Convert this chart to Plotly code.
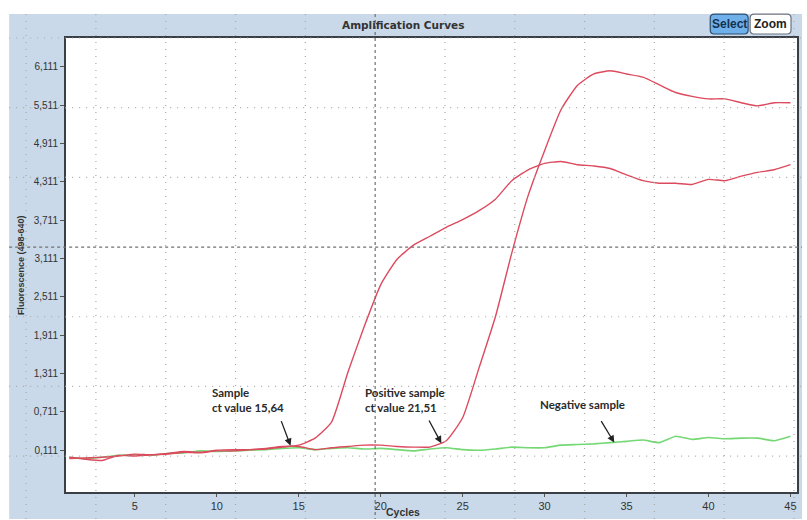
import plotly.graph_objects as go

# PCR cycle numbers
cycles = list(range(1, 46))

# Fluorescence (498-640) readings per cycle
sample = [0.00, -0.03, -0.05, 0.03, 0.02, 0.04, 0.05, 0.08, 0.07, 0.10,
          0.10, 0.12, 0.13, 0.16, 0.19, 0.30, 0.55, 1.33, 2.05, 2.70,
          3.10, 3.32, 3.46, 3.60, 3.72, 3.86, 4.04, 4.33, 4.50, 4.60,
          4.63, 4.58, 4.56, 4.52, 4.42, 4.33, 4.29, 4.29, 4.27, 4.35,
          4.33, 4.40, 4.46, 4.50, 4.58]
positive = [-0.02, -0.01, 0.00, 0.02, 0.05, 0.04, 0.06, 0.09, 0.08, 0.11,
            0.12, 0.12, 0.14, 0.17, 0.17, 0.12, 0.15, 0.17, 0.19, 0.19,
            0.17, 0.16, 0.16, 0.26, 0.62, 1.40, 2.20, 3.20, 4.10, 4.80,
            5.44, 5.82, 6.00, 6.05, 6.00, 5.95, 5.83, 5.71, 5.65, 5.61,
            5.61, 5.55, 5.50, 5.55, 5.55]
negative = [0.00, -0.02, 0.00, 0.03, 0.04, 0.03, 0.06, 0.07, 0.10, 0.09,
            0.10, 0.11, 0.12, 0.14, 0.15, 0.12, 0.14, 0.15, 0.13, 0.14,
            0.12, 0.10, 0.13, 0.15, 0.12, 0.11, 0.13, 0.16, 0.15, 0.15,
            0.19, 0.20, 0.21, 0.23, 0.25, 0.27, 0.23, 0.33, 0.28, 0.31,
            0.29, 0.30, 0.30, 0.26, 0.33]

# Axis ticks
x_ticks = [5, 10, 15, 20, 25, 30, 35, 40, 45]
y_ticks = [0.111, 0.711, 1.311, 1.911, 2.511, 3.111, 3.711, 4.311, 4.911, 5.511, 6.111]
y_tick_text = ["0,111", "0,711", "1,311", "1,911", "2,511", "3,111",
               "3,711", "4,311", "4,911", "5,511", "6,111"]

# Callouts: text, text anchor (cycle, value), arrow tail and tip (cycle, value)
callouts = [
    ("Sample<br>ct value 15,64", (9.6, 0.90), (13.9, 0.59), (14.5, 0.18)),
    ("Positive sample<br>ct value 21,51", (18.9, 0.90), (22.9, 0.60), (23.7, 0.22)),
    ("Negative sample", (29.6, 0.83), (33.4, 0.59), (34.25, 0.23)),
]

W, H = 807, 520
L, R, T, B = 66, 799, 38, 494
RED = "#dc4a5e"
GREEN = "#74d874"
PANEL = "#c9d9e9"


def fx(p):
    return (p - L) / (R - L)


def fy(p):
    return (B - p) / (B - T)


fig = go.Figure()
fig.add_trace(go.Scatter(x=cycles, y=negative, mode="lines",
                         line=dict(color=GREEN, width=1.6, shape="spline", smoothing=0.4)))
fig.add_trace(go.Scatter(x=cycles, y=sample, mode="lines",
                         line=dict(color=RED, width=1.4, shape="spline", smoothing=0.5)))
fig.add_trace(go.Scatter(x=cycles, y=positive, mode="lines",
                         line=dict(color=RED, width=1.4, shape="spline", smoothing=0.5)))

shapes = [
    # blue panel behind everything, white plotting area on top of it
    dict(type="rect", xref="paper", yref="paper", x0=fx(9), x1=fx(804), y0=fy(14), y1=fy(521),
         fillcolor=PANEL, line=dict(width=0), layer="below"),
    dict(type="rect", xref="paper", yref="paper", x0=0, x1=1, y0=0, y1=1,
         fillcolor="white", line=dict(width=0), layer="below"),
]

# screen grid overlay
DOT = dict(color="#a8a8a8", width=1.2, dash="1px,6px")
CENTRE = dict(color="#707070", width=1.2, dash="3px,3px")
for gx in range(26, 800, 70):
    shapes.append(dict(type="line", xref="paper", yref="paper",
                       x0=fx(gx), x1=fx(gx), y0=fy(14), y1=fy(521),
                       line=CENTRE if gx == 376 else DOT, layer="above"))
for gy in range(38, 520, 70):
    shapes.append(dict(type="line", xref="paper", yref="paper",
                       x0=fx(9), x1=fx(804), y0=fy(gy), y1=fy(gy),
                       line=CENTRE if gy == 248 else DOT, layer="above"))


def rounded(x0, y0, x1, y1, r=4):
    return (f"M {fx(x0 + r)},{fy(y0)} L {fx(x1 - r)},{fy(y0)} "
            f"Q {fx(x1)},{fy(y0)} {fx(x1)},{fy(y0 + r)} L {fx(x1)},{fy(y1 - r)} "
            f"Q {fx(x1)},{fy(y1)} {fx(x1 - r)},{fy(y1)} L {fx(x0 + r)},{fy(y1)} "
            f"Q {fx(x0)},{fy(y1)} {fx(x0)},{fy(y1 - r)} L {fx(x0)},{fy(y0 + r)} "
            f"Q {fx(x0)},{fy(y0)} {fx(x0 + r)},{fy(y0)} Z")


# Select / Zoom buttons
shapes.append(dict(type="path", xref="paper", yref="paper", path=rounded(712, 14, 750, 34),
                   fillcolor="#6fb0ea", line=dict(color="#2c4d70", width=1.2), layer="above"))
shapes.append(dict(type="path", xref="paper", yref="paper", path=rounded(752, 14, 793, 34),
                   fillcolor="white", line=dict(color="#6a7280", width=1.2), layer="above"))


def label(text, x, y, size, family="Liberation Sans", color="#333", angle=0):
    return dict(text=text, xref="paper", yref="paper", x=fx(x), y=fy(y),
                xanchor="center", yanchor="middle", textangle=angle, showarrow=False,
                font=dict(family=family, size=size, color=color))


NARROW = "Liberation Sans Narrow, Liberation Sans"
annotations = [
    label("<b>Amplification Curves</b>", 404, 25, 10.5, "DejaVu Sans"),
    label("<b>Select</b>", 731, 24, 12, NARROW, "#17314f"),
    label("<b>Zoom</b>", 772.5, 24, 12, NARROW, "#222"),
    label("<b>Fluorescence (498-640)</b>", 21, 266, 9, angle=-90),
    label("<b>Cycles</b>", 404, 514, 10.5, NARROW),
]

for text, (tx, ty), (ax, ay), (hx, hy) in callouts:
    annotations.append(dict(text=f"<b>{text}</b>", x=tx, y=ty, xref="x", yref="y",
                            xanchor="left", yanchor="middle", align="left", showarrow=False,
                            font=dict(family="Lato, Open Sans", size=11.5, color="#2a2a2a")))
    annotations.append(dict(text="", x=hx, y=hy, ax=ax, ay=ay, xref="x", yref="y",
                            axref="x", ayref="y", showarrow=True, arrowhead=2,
                            arrowsize=1.1, arrowwidth=1.3, arrowcolor="#222"))

fig.update_layout(
    width=W, height=H,
    margin=dict(l=L, r=W - R, t=T, b=H - B),
    paper_bgcolor="white", plot_bgcolor="white",
    showlegend=False,
    shapes=shapes, annotations=annotations,
    xaxis=dict(range=[0.8, 45.4], tickvals=x_ticks, showgrid=False, zeroline=False,
               showline=True, linecolor="#3a3f45", linewidth=2, mirror=True,
               ticks="outside", ticklen=3, tickcolor="#555",
               tickfont=dict(family=NARROW, size=11, color="#333")),
    yaxis=dict(range=[-0.543, 6.563], tickvals=y_ticks, ticktext=y_tick_text,
               showgrid=False, zeroline=False,
               showline=True, linecolor="#3a3f45", linewidth=2, mirror=True,
               ticks="outside", ticklen=4, tickcolor="#555",
               tickfont=dict(family=NARROW, size=10, color="#333")),
)

fig.write_html("out.html")
